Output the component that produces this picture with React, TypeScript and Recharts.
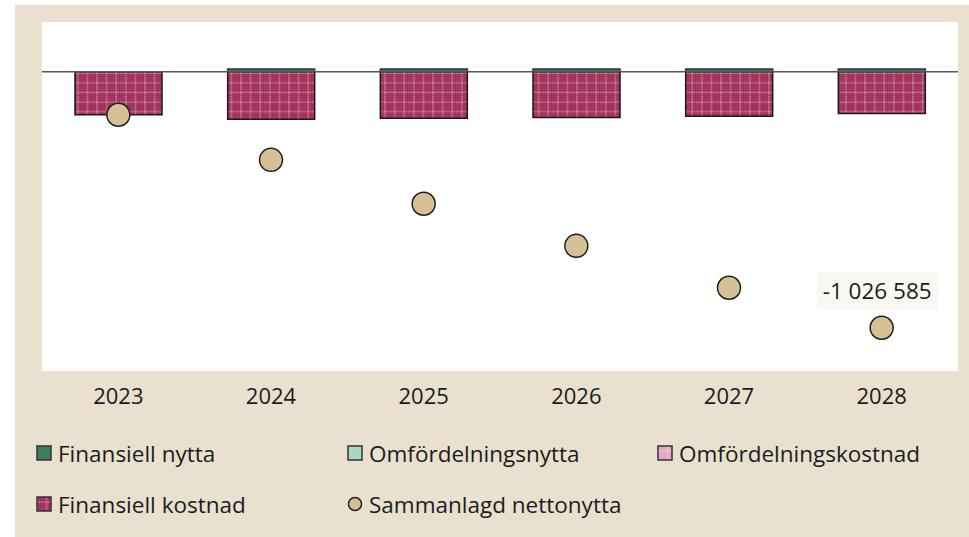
import React from 'react';
import {
  ComposedChart,
  Bar,
  Scatter,
  XAxis,
  YAxis,
  ReferenceLine,
  LabelList,
} from 'recharts';

const years = ['2023', '2024', '2025', '2026', '2027', '2028'];
const finansiellNytta = [0, 11000, 11000, 11000, 11000, 11000];
const omfordelningsNytta = [0, 0, 0, 0, 0, 0];
const omfordelningsKostnad = [0, 0, 0, 0, 0, 0];
const finansiellKostnad = [-172000, -190000, -186000, -183000, -178000, -167000];
const nettoNytta = [-172000, -353000, -529000, -698000, -866000, -1026585];

const data = years.map((year, i) => ({
  year,
  finNytta: finansiellNytta[i],
  omfNytta: omfordelningsNytta[i],
  omfKostnad: omfordelningsKostnad[i],
  finKostnad: finansiellKostnad[i],
  netto: nettoNytta[i],
}));

const FONT = '"Open Sans", "Noto Sans", sans-serif';
const BEIGE = '#e9e0d0';
const MAGENTA = '#a3335f';
const TAN = '#d6c096';
const TEXT = '#1c1c1c';

const fmt = (v: number) => {
  const s = Math.abs(Math.round(v)).toString().replace(/\B(?=(\d{3})+(?!\d))/g, ' ');
  return (v < 0 ? '-' : '') + s;
};

const NetLabel = (props: any) => {
  const { x, y, index, value } = props;
  if (index !== years.length - 1) return null;
  const cx = x;
  const cy = y - 33;
  return (
    <g>
      <rect x={cx - 60} y={cy - 18} width={121} height={37} fill="#f9f7f2" />
      <text
        x={cx}
        y={cy}
        textAnchor="middle"
        dominantBaseline="central"
        fontFamily={FONT}
        fontSize={22.5}
        fill={TEXT}
      >
        {fmt(value)}
      </text>
    </g>
  );
};

const Dot = (props: any) => {
  const { cx, cy } = props;
  return <circle cx={cx} cy={cy} r={11.5} fill={TAN} stroke="#1e1e1e" strokeWidth={1.5} />;
};

const legendItems = [
  { label: 'Finansiell nytta', kind: 'square', fill: '#3c7d60' },
  { label: 'Omfördelningsnytta', kind: 'square', fill: '#a9d7c6' },
  { label: 'Omfördelningskostnad', kind: 'square', fill: 'url(#pinkCheck)' },
  { label: 'Finansiell kostnad', kind: 'square', fill: 'url(#magentaCheck)' },
  { label: 'Sammanlagd nettonytta', kind: 'circle', fill: TAN },
];

const legendPos = [
  { left: 36, top: 453 },
  { left: 347, top: 453 },
  { left: 657, top: 453 },
  { left: 36, top: 504 },
  { left: 347, top: 504 },
];

const App: React.FC = () => {
  return (
    <div style={{ position: 'relative', width: 969, height: 537, background: '#fff', overflow: 'hidden' }}>
      <style>{'body{margin:0}'}</style>
      <div style={{ position: 'absolute', left: 15, top: 5, width: 954, height: 532, background: BEIGE }} />
      <div style={{ position: 'absolute', left: 42, top: 22, width: 916, height: 349, background: '#fff' }} />
      <div style={{ position: 'absolute', left: 0, top: 0 }}>
        <ComposedChart
          width={969}
          height={420}
          data={data}
          stackOffset="sign"
          margin={{ top: 22, right: 11, left: 42, bottom: 0 }}
        >
          <defs>
            <pattern id="magentaCheck" width="9.6" height="9.6" patternUnits="userSpaceOnUse">
              <rect width="9.6" height="9.6" fill={MAGENTA} />
              <line x1="1" y1="0" x2="1" y2="9.6" stroke="#e6b3c2" strokeWidth="1" strokeDasharray="1.4 1" />
              <line x1="0" y1="6" x2="9.6" y2="6" stroke="#e6b3c2" strokeWidth="1" strokeDasharray="1.4 1" />
            </pattern>
            <pattern id="pinkCheck" width="9.6" height="9.6" patternUnits="userSpaceOnUse">
              <rect width="9.6" height="9.6" fill="#e2a9c5" />
              <line x1="1" y1="0" x2="1" y2="9.6" stroke="#f6dde8" strokeWidth="1" strokeDasharray="1.4 1" />
              <line x1="0" y1="6" x2="9.6" y2="6" stroke="#f6dde8" strokeWidth="1" strokeDasharray="1.4 1" />
            </pattern>
          </defs>
          <XAxis
            dataKey="year"
            height={49}
            axisLine={false}
            tickLine={false}
            tickMargin={11}
            tick={{ fill: TEXT, fontSize: 22, fontFamily: FONT }}
          />
          <YAxis hide domain={[-1200000, 200000]} />
          <ReferenceLine y={0} stroke="#555" strokeWidth={1.5} />
          <Bar dataKey="finNytta" stackId="a" barSize={87} fill="#3c7d60" stroke="#333" strokeWidth={1.5} isAnimationActive={false} />
          <Bar dataKey="omfNytta" stackId="a" barSize={87} fill="#a9d7c6" stroke="#333" strokeWidth={1.5} isAnimationActive={false} />
          <Bar dataKey="omfKostnad" stackId="a" barSize={87} fill="url(#pinkCheck)" stroke="#222" strokeWidth={1.5} isAnimationActive={false} />
          <Bar dataKey="finKostnad" stackId="a" barSize={87} fill="url(#magentaCheck)" stroke="#1a1a1a" strokeWidth={1.5} isAnimationActive={false} />
          <Scatter dataKey="netto" shape={<Dot />} isAnimationActive={false}>
            <LabelList dataKey="netto" content={<NetLabel />} />
          </Scatter>
        </ComposedChart>
      </div>
      {legendItems.map((item, i) => (
        <div
          key={item.label}
          style={{
            position: 'absolute',
            left: legendPos[i].left,
            top: legendPos[i].top - 15,
            height: 30,
            display: 'flex',
            alignItems: 'center',
            fontFamily: FONT,
            fontSize: 22.5,
            color: TEXT,
            whiteSpace: 'nowrap',
          }}
        >
          {item.kind === 'square' ? (
            <svg width={16} height={16} style={{ marginRight: 6 }}>
              <rect x={1} y={1} width={14} height={14} fill={item.fill} stroke="#333" strokeWidth={1.5} />
            </svg>
          ) : (
            <svg width={16} height={16} style={{ marginRight: 6 }}>
              <circle cx={8} cy={8} r={6.5} fill={item.fill} stroke="#222" strokeWidth={1.5} />
            </svg>
          )}
          {item.label}
        </div>
      ))}
    </div>
  );
};

export default App;
